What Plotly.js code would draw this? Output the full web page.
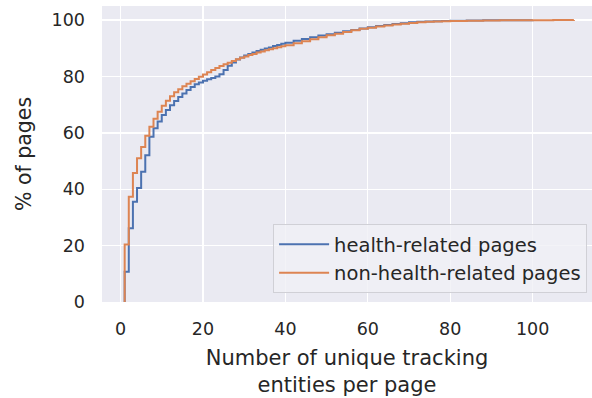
<!DOCTYPE html>
<html>
<head>
<meta charset="utf-8">
<script src="https://cdn.plot.ly/plotly-3.0.1.min.js"></script>
<style>
  html, body { margin: 0; padding: 0; background: #ffffff; }
  #chart { width: 592px; height: 398px; }
</style>
</head>
<body>
<div id="chart"></div>
<script>
// ECDF of number of unique tracking entities per page (values in %)
const seriesNames = ["health-related pages", "non-health-related pages"];

const healthX = [1,2,3,4,5,6,7,8,9,10,11,12,13,14,15,16,17,18,19,20,
  21,22,23,24,25,26,27,28,29,30,31,32,33,34,35,36,37,38,39,40,
  42,44,46,48,50,52,54,56,58,60,62,64,66,68,70,72,74,76,78,80,
  84,88,92,96,100];
const healthY = [10.7,26.2,35.6,40.4,46.2,52.1,58.6,61.6,64.0,66.3,68.1,69.8,71.3,72.7,74.0,75.2,76.3,77.2,77.9,78.5,
  79.0,79.5,80.0,80.8,82.3,83.8,85.0,86.0,86.7,87.4,88.0,88.5,89.0,89.5,89.9,90.3,90.8,91.2,91.6,92.0,
  92.7,93.3,93.9,94.5,95.0,95.5,96.0,96.5,97.0,97.5,97.9,98.3,98.6,98.9,99.2,99.4,99.5,99.6,99.7,99.8,
  99.9,99.93,99.96,99.98,100];

const nonHealthX = [1,2,3,4,5,6,7,8,9,10,11,12,13,14,15,16,17,18,19,20,
  21,22,23,24,25,26,27,28,29,30,31,32,33,34,35,36,37,38,39,40,
  42,44,46,48,50,52,54,56,58,60,62,64,66,68,70,72,74,76,78,80,
  84,88,92,96,100,105,110];
const nonHealthY = [20.4,37.3,45.8,51.0,55.0,59.0,62.2,65.0,67.5,69.6,71.4,73.0,74.4,75.5,76.5,77.4,78.3,79.1,79.9,80.7,
  81.5,82.3,83.0,83.7,84.3,84.9,85.5,86.1,86.6,87.1,87.6,88.0,88.5,88.9,89.3,89.7,90.0,90.4,90.7,91.1,
  91.8,92.5,93.2,93.9,94.6,95.2,95.8,96.4,96.9,97.3,97.7,98.1,98.4,98.7,99.0,99.2,99.4,99.5,99.6,99.7,
  99.8,99.88,99.93,99.96,99.98,99.99,100];

const xTicks = [0,20,40,60,80,100];
const yTicks = [0,20,40,60,80,100];

const colors = ["#4C72B0", "#DD8452"];

function ecdfTrace(xs, ys, name, color) {
  return {
    x: [xs[0]].concat(xs),
    y: [0].concat(ys),
    name: name,
    type: "scatter",
    mode: "lines",
    line: { shape: "hv", color: color, width: 2 },
    hoverinfo: "skip"
  };
}

const data = [
  ecdfTrace(healthX, healthY, seriesNames[0], colors[0]),
  ecdfTrace(nonHealthX, nonHealthY, seriesNames[1], colors[1])
];

const FONT = "DejaVu Sans, sans-serif";
const TXT = "#262626";

const layout = {
  width: 592, height: 398,
  margin: { l: 102, r: 0, t: 6, b: 96, pad: 0 },
  paper_bgcolor: "#ffffff",
  plot_bgcolor: "#EAEAF2",
  font: { family: FONT, color: TXT, size: 17.5 },
  showlegend: true,
  legend: {
    x: 0.99, xanchor: "right", y: 0.03, yanchor: "bottom",
    bgcolor: "rgba(240,240,245,0.8)",
    bordercolor: "#d0d0d6", borderwidth: 1,
    itemwidth: 50,
    font: { family: FONT, color: TXT, size: 19.5 }
  },
  xaxis: {
    range: [-4.5, 114.4],
    tickvals: xTicks, ticktext: xTicks.map(String),
    showgrid: true, gridcolor: "#ffffff", gridwidth: 1.3,
    zeroline: false, showline: false, ticks: "",
    ticklabelstandoff: 14,
    tickfont: { family: FONT, color: TXT, size: 17.5 },
    title: { text: "Number of unique tracking<br>entities per page", font: { family: FONT, color: TXT, size: 21 }, standoff: 12 }
  },
  yaxis: {
    range: [0, 105],
    tickvals: yTicks, ticktext: yTicks.map(String),
    showgrid: true, gridcolor: "#ffffff", gridwidth: 1.3,
    zeroline: false, showline: false, ticks: "",
    ticklabelstandoff: 16,
    tickfont: { family: FONT, color: TXT, size: 17.5 },
    title: { text: "% of pages", font: { family: FONT, color: TXT, size: 20.5 }, standoff: 14 }
  }
};

Plotly.newPlot("chart", data, layout, { staticPlot: true, displayModeBar: false });
</script>
</body>
</html>
